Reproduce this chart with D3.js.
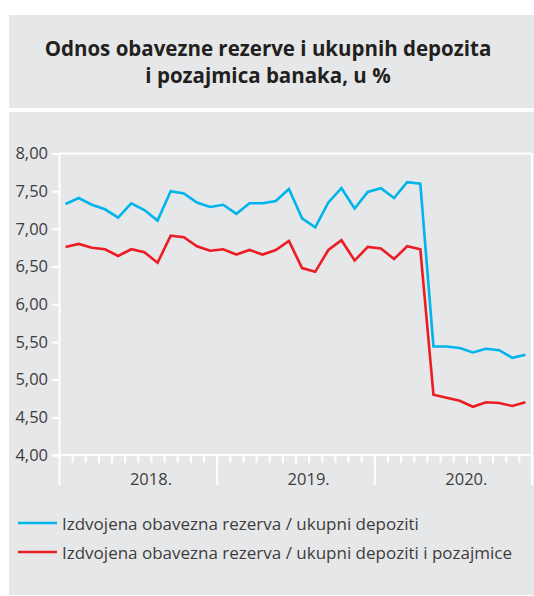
<!DOCTYPE html>
<html lang="sr">
<head>
<meta charset="utf-8">
<title>Odnos obavezne rezerve</title>
<script src="https://cdn.jsdelivr.net/npm/d3@7"></script>
<style>
  body { margin: 0; background: #fff; }
  svg text { font-family: "Open Sans", "Noto Sans", sans-serif; }
</style>
</head>
<body>
<script>
// monthly values, Jan 2018 - Dec 2020
var years = ["2018.", "2019.", "2020."];
var depoziti = [7.33, 7.41, 7.32, 7.26, 7.15, 7.34, 7.25, 7.11, 7.50, 7.47, 7.35, 7.29,
                7.32, 7.20, 7.34, 7.34, 7.37, 7.53, 7.14, 7.02, 7.35, 7.54, 7.27, 7.49,
                7.54, 7.41, 7.62, 7.60, 5.44, 5.44, 5.42, 5.36, 5.41, 5.39, 5.29, 5.33];
var depozitiPozajmice = [6.76, 6.80, 6.75, 6.73, 6.64, 6.73, 6.69, 6.55, 6.91, 6.89, 6.77, 6.71,
                         6.73, 6.66, 6.72, 6.66, 6.72, 6.84, 6.48, 6.43, 6.72, 6.85, 6.58, 6.76,
                         6.74, 6.60, 6.77, 6.73, 4.80, 4.76, 4.72, 4.64, 4.70, 4.69, 4.65, 4.70];
var yTicks = [4, 4.5, 5, 5.5, 6, 6.5, 7, 7.5, 8];
var seriesNames = ["Izdvojena obavezna rezerva / ukupni depoziti",
                   "Izdvojena obavezna rezerva / ukupni depoziti i pozajmice"];
var colors = ["#00b4ec", "#ed1c24"];

var w = 534, h = 596;
var bg = "#e6e7e8";

var svg = d3.select("body").append("svg")
    .attr("width", w)
    .attr("height", h);

// panels
svg.append("rect").attr("x", 9).attr("y", 15).attr("width", w - 9).attr("height", 93).attr("fill", bg);
svg.append("rect").attr("x", 9).attr("y", 112).attr("width", w - 9).attr("height", 483).attr("fill", bg);

// title
var title = svg.append("text")
    .attr("text-anchor", "middle")
    .attr("font-size", "20.5px")
    .attr("font-weight", "bold")
    .attr("fill", "#231f20");
title.append("tspan").attr("x", 268).attr("y", 56).text("Odnos obavezne rezerve i ukupnih depozita");
title.append("tspan").attr("x", 268).attr("y", 83).text("i pozajmica banaka, u %");

var plotLeft = 59, plotRight = 532, plotTop = 153.5, plotBottom = 455;

var x = d3.scaleLinear().domain([0, 36]).range([plotLeft, plotRight]);
var y = d3.scaleLinear().domain([4, 8]).range([plotBottom, plotTop]);

// frame: top line and right line
svg.append("line").attr("x1", plotLeft).attr("x2", plotRight).attr("y1", y(8)).attr("y2", y(8))
    .attr("stroke", "#fff").attr("stroke-width", 2);
svg.append("line").attr("x1", plotRight).attr("x2", plotRight).attr("y1", y(8)).attr("y2", 485)
    .attr("stroke", "#fff").attr("stroke-width", 2);

// y axis
var yAxis = d3.axisLeft(y)
    .tickValues(yTicks)
    .tickSize(7)
    .tickPadding(4)
    .tickFormat(function(d) { return d3.format(".2f")(d).replace(".", ","); });

var gy = svg.append("g")
    .attr("transform", "translate(" + plotLeft + ",0)")
    .call(yAxis);
gy.select(".domain").attr("stroke", "#fff").attr("stroke-width", 2);
gy.selectAll(".tick line").attr("stroke", "#fff").attr("stroke-width", 2);
gy.selectAll(".tick text").attr("font-size", "16.5px").attr("fill", "#3d3d3d")
    .attr("font-family", "'Open Sans', sans-serif");

// x axis: month ticks
var xAxis = d3.axisBottom(x)
    .tickValues(d3.range(1, 36))
    .tickSize(8)
    .tickFormat("");
var gx = svg.append("g")
    .attr("transform", "translate(0," + plotBottom + ")")
    .call(xAxis);
gx.select(".domain").remove();
gx.selectAll(".tick line").attr("stroke", "#fff").attr("stroke-width", 2);

svg.append("line").attr("x1", plotLeft - 7).attr("x2", plotRight).attr("y1", plotBottom).attr("y2", plotBottom)
    .attr("stroke", "#fff").attr("stroke-width", 2);

// year separators
var xYears = d3.axisBottom(x)
    .tickValues([0, 12, 24, 36])
    .tickSize(30)
    .tickFormat("");
var gyr = svg.append("g")
    .attr("transform", "translate(0," + plotBottom + ")")
    .call(xYears);
gyr.select(".domain").remove();
gyr.selectAll(".tick line").attr("stroke", "#fff").attr("stroke-width", 2);

// year labels
svg.selectAll(".year")
    .data(years)
    .enter()
    .append("text")
    .attr("class", "year")
    .attr("x", function(d, i) { return x(i * 12 + 7); })
    .attr("y", 485)
    .attr("text-anchor", "middle")
    .attr("font-size", "16.5px")
    .attr("fill", "#3d3d3d")
    .text(function(d) { return d; });

// lines
var line = d3.line()
    .x(function(d, i) { return x(i + 0.5); })
    .y(function(d) { return y(d); });

[depoziti, depozitiPozajmice].forEach(function(s, k) {
    svg.append("path")
        .datum(s)
        .attr("fill", "none")
        .attr("stroke", colors[k])
        .attr("stroke-width", 2.6)
        .attr("stroke-linejoin", "miter")
        .attr("d", line);
});

// legend
var legend = svg.selectAll(".legend")
    .data(seriesNames)
    .enter()
    .append("g")
    .attr("class", "legend")
    .attr("transform", function(d, i) { return "translate(0," + (523 + i * 29) + ")"; });

legend.append("line")
    .attr("x1", 18).attr("x2", 57)
    .attr("stroke", function(d, i) { return colors[i]; })
    .attr("stroke-width", 2.6);

legend.append("text")
    .attr("x", 62)
    .attr("y", 7)
    .attr("font-size", "17px")
    .attr("fill", "#3d3d3d")
    .text(function(d) { return d; });
</script>
</body>
</html>
